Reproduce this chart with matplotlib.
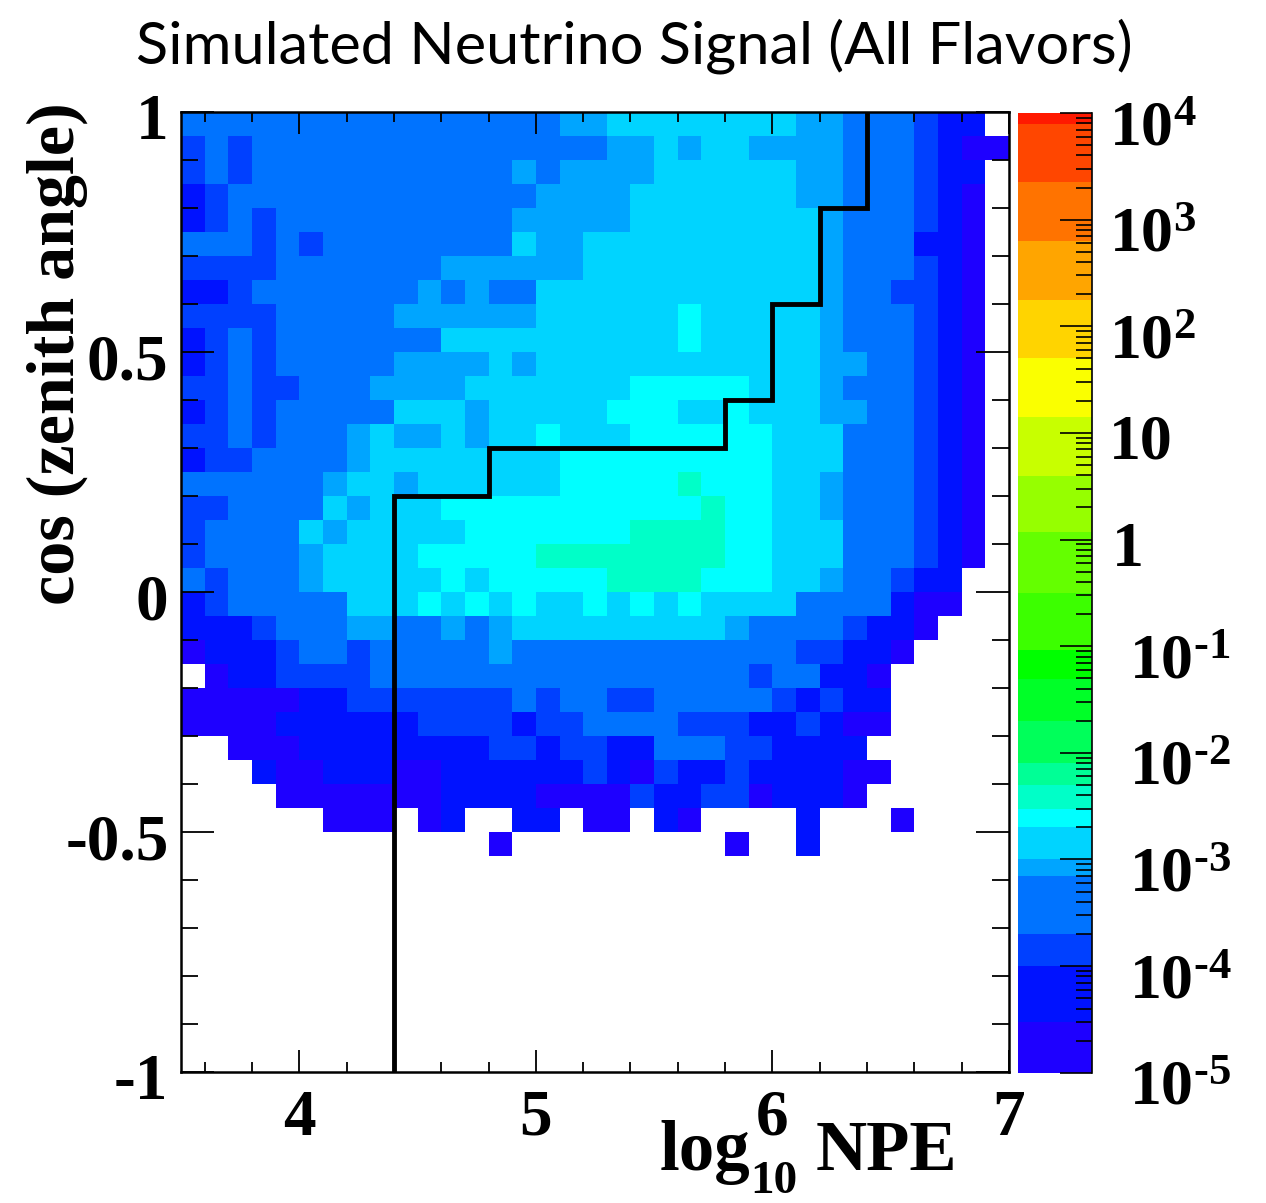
import numpy as np
import matplotlib
matplotlib.use("Agg")
import matplotlib.pyplot as plt
from matplotlib.colors import BoundaryNorm, ListedColormap
from matplotlib.ticker import FixedLocator, NullFormatter
from matplotlib.transforms import ScaledTranslation

# Colour band of each histogram cell, top row first (-1 = empty bin)
niveles_top = [
    [3]*16 + [4, 4] + [5]*8 + [4, 4, 3, 3, 3, 2, 1, 1, -1],
    [2, 3, 2] + [3]*15 + [4, 4, 5, 4, 5, 5, 4, 4, 4, 4, 3, 3, 3, 2, 1, 0, 0],
    [2, 3, 2] + [3]*11 + [4, 3, 4, 4, 4, 4] + [5]*6 + [4, 4, 3, 3, 3, 2, 1, 1, -1],
    [1, 2] + [3]*13 + [4, 4, 4, 4] + [5]*7 + [4, 4, 3, 3, 3, 2, 1, 0, -1],
    [1, 2, 3, 2] + [3]*10 + [4]*5 + [5]*8 + [4, 3, 3, 3, 2, 1, 0, -1],
    [3, 3, 3, 2, 3, 2] + [3]*8 + [5, 4, 4] + [5]*10 + [4, 3, 3, 3, 1, 1, 0, -1],
    [2, 2, 2, 2] + [3]*7 + [4]*6 + [5]*10 + [4, 3, 3, 3, 2, 1, 0, -1],
    [1, 1, 2] + [3]*7 + [4, 3, 4, 3, 3] + [5]*12 + [4, 3, 3, 2, 2, 1, 0, -1],
    [2, 2, 2, 2] + [3]*5 + [4]*6 + [5]*6 + [6] + [5]*5 + [4, 3, 3, 3, 2, 1, 0, -1],
    [1, 2, 3, 2] + [3]*7 + [5]*10 + [6] + [5]*5 + [4, 3, 3, 3, 2, 1, 0, -1],
    [1, 2, 3, 2] + [3]*5 + [4, 4, 4, 4, 5, 4] + [5]*12 + [4, 4, 3, 3, 2, 1, 0, -1],
    [2, 2, 3, 2, 2, 3, 3, 3, 4, 4, 4, 4] + [5]*7 + [6]*5 + [5, 5, 5, 4, 3, 3, 3, 2, 1, 0, -1],
    [1, 2, 3, 2] + [3]*5 + [5, 5, 5, 4] + [5]*5 + [6, 6, 6, 5, 5, 6, 5, 5, 5, 4, 4, 3, 3, 2, 1, 0, -1],
    [2, 2, 3, 2, 3, 3, 3, 4, 5, 4, 4, 5, 4, 5, 5, 6, 5, 5, 5] + [6]*6 + [5, 5, 5, 3, 3, 3, 2, 1, 0, -1],
    [1, 2, 2, 3, 3, 3, 3, 4] + [5]*8 + [6]*9 + [5, 5, 5, 3, 3, 3, 2, 1, 0, -1],
    [3]*6 + [4, 5, 5, 4] + [5]*6 + [6]*5 + [7, 6, 6, 6, 5, 5, 4, 3, 3, 3, 2, 1, 0, -1],
]
niveles_mid = [
    [2, 2, 3, 3, 3, 3, 5, 4, 5, 5, 5] + [6]*11 + [7, 6, 6, 5, 5, 4, 3, 3, 3, 2, 1, 0, -1],
    [2, 3, 3, 3, 3, 5, 4, 5, 5, 5, 5, 5] + [6]*7 + [7, 7, 7, 7, 6, 6, 5, 5, 5, 3, 3, 3, 2, 1, 0, -1],
    [2, 3, 3, 3, 3, 4, 5, 5, 5, 5] + [6]*5 + [7]*8 + [6, 6, 5, 5, 5, 3, 3, 3, 2, 1, 0, -1],
    [3, 2, 3, 3, 3, 4, 5, 5, 5, 5, 5, 6, 5] + [6]*5 + [7, 7, 7, 7, 6, 6, 6, 5, 5, 4, 3, 3, 2, 1, 1, -1, -1],
    [1, 2, 3, 3, 3, 3, 3, 5, 5, 5, 6, 5, 6, 5, 6, 5, 5, 6, 5, 6, 5, 6, 5, 5, 5, 5, 3, 3, 3, 3, 1, 0, 0, -1, -1],
    [1, 1, 1, 2, 3, 3, 3, 4, 4, 3, 3, 4, 3, 4] + [5]*9 + [4, 3, 3, 3, 3, 2, 1, 1, 0, -1, -1, -1],
    [0, 1, 1, 1, 2, 3, 3, 2, 3, 3, 3, 3, 3, 4] + [3]*12 + [2, 2, 1, 1, 0, -1, -1, -1, -1],
    [-1, 0, 1, 1, 2, 2, 2, 2] + [3]*16 + [2, 3, 3, 1, 1, 0] + [-1]*5,
]
niveles_bot = [
    [0, 0, 0, 0, 0, 1, 1, 2, 2, 2, 2, 2, 2, 2, 3, 2, 3, 3, 2, 2, 3, 3, 3, 3, 3, 2, 1, 2, 1, 1] + [-1]*5,
    [0, 0, 0, 0, 1, 1, 1, 1, 1, 1, 2, 2, 2, 2, 1, 2, 2, 3, 3, 3, 3, 2, 2, 2, 1, 1, 2, 1, 0, 0] + [-1]*5,
    [-1, -1, 0, 0, 0, 1, 1, 1, 1, 1, 1, 1, 1, 2, 2, 1, 2, 2, 1, 1, 3, 3, 3, 2, 2, 1, 1, 1, 1] + [-1]*6,
    [-1, -1, -1, 1, 0, 0, 1, 1, 1, 0, 0, 1, 1, 1, 1, 1, 1, 2, 1, 0, 2, 1, 1, 2, 1, 1, 1, 1, 0, 0] + [-1]*5,
    [-1, -1, -1, -1, 0, 0, 0, 0, 0, 0, 0, 1, 1, 1, 1, 0, 0, 0, 0, 2, 1, 1, 2, 2, 0, 1, 1, 1, 0] + [-1]*6,
    [-1]*6 + [0, 0, 0, -1, 0, 1, -1, -1, 1, 1, -1, 0, 0, -1, 1, 0, -1, -1, -1, -1, 1, -1, -1, -1, 0, -1, -1, -1, -1],
    [-1]*13 + [0] + [-1]*9 + [0, -1, -1, 1] + [-1]*8,
]

# Band edges of the palette, in log10 of the z value
limites_log = [-5.0, -4.52, -4.0, -3.70, -3.155, -3.0, -2.695, -2.53, -2.30, -2.10, -1.70, -1.31,
               -1.04, -0.50, 0.07, 0.60, 1.15, 1.70, 2.25, 2.80, 3.35, 3.90, 4.0]
colores = ["#1e00ff", "#0012ff", "#0040ff", "#0073ff", "#00a5ff", "#00d4ff", "#00ffff", "#00ffc8",
           "#00ff96", "#00ff5a", "#00ff28", "#00ff00", "#3cff00", "#64ff00", "#96ff00", "#c8ff00",
           "#faff00", "#ffd400", "#ffa500", "#ff7300", "#ff4600", "#ff1900"]

# Cut line
corte_x = [4.4, 4.4, 4.8, 4.8, 5.8, 5.8, 6.0, 6.0, 6.2, 6.2, 6.4, 6.4]
corte_y = [-1, 0.2, 0.2, 0.3, 0.3, 0.4, 0.4, 0.6, 0.6, 0.8, 0.8, 1]

xticks = [4, 5, 6, 7]
yticks = [-1, -0.5, 0, 0.5, 1]
yticklabels = ["-1", "-0.5", "0", "0.5", "1"]
zticks = [1e-5, 1e-4, 1e-3, 1e-2, 1e-1, 1, 10, 1e2, 1e3, 1e4]
zlabels = [r"$10^{\text{-}5}$", r"$10^{\text{-}4}$", r"$10^{\text{-}3}$", r"$10^{\text{-}2}$", r"$10^{\text{-}1}$",
           "1", "10", r"$10^{2}$", r"$10^{3}$", r"$10^{4}$"]

plt.rcParams["font.family"] = "Liberation Serif"
plt.rcParams["font.weight"] = "bold"
plt.rcParams["mathtext.fontset"] = "custom"
plt.rcParams["mathtext.rm"] = "Liberation Serif:bold"
plt.rcParams["mathtext.bf"] = "Liberation Serif:bold"
plt.rcParams["mathtext.it"] = "Liberation Serif:bold"
plt.rcParams["mathtext.default"] = "bf"

W, H = 1266, 1203
fig = plt.figure(figsize=(W / 100, H / 100), dpi=100, facecolor="white")
ax = fig.add_axes([181 / W, (H - 1072) / H, 828 / W, 960 / H])
cax = fig.add_axes([1018 / W, (H - 1072.7) / H, 74 / W, 959.7 / H])

niveles = np.array(niveles_top + niveles_mid + niveles_bot + [[-1] * 35] * 9)
limites = 10.0 ** np.array(limites_log)
centros = 10.0 ** ((np.array(limites_log[:-1]) + np.array(limites_log[1:])) / 2)
cmap = ListedColormap(colores)
norm = BoundaryNorm(limites, len(colores))

z = np.ma.masked_where(niveles < 0, centros[np.clip(niveles, 0, None)])
x_bordes = np.linspace(3.5, 7, 36)
y_bordes = np.linspace(1, -1, 41)
ax.pcolormesh(x_bordes, y_bordes, z, cmap=cmap, norm=norm, antialiased=False, linewidth=0)
ax.plot(corte_x, corte_y, color="black", lw=3.5, solid_joinstyle="miter", zorder=3)

ax.set_xlim(3.5, 7)
ax.set_ylim(-1, 1)
ax.set_xticks(xticks)
ax.set_xticks(np.arange(3.6, 7, 0.2), minor=True)
ax.set_yticks(yticks)
ax.set_yticks(np.arange(-0.9, 1, 0.1), minor=True)
ax.set_yticklabels(yticklabels)
ax.tick_params(axis="x", which="major", direction="in", top=True, length=16, width=1.3, labelsize=47, pad=12)
ax.tick_params(axis="x", which="minor", direction="in", top=True, length=7.2, width=1.3)
ax.tick_params(axis="y", which="major", direction="in", right=True, length=24, width=1.3, labelsize=47, pad=9)
ax.tick_params(axis="y", which="minor", direction="in", right=True, length=12, width=1.3)
for lab in ax.get_yticklabels():
    lab.set_transform(lab.get_transform() + ScaledTranslation(0, -4 / 100, fig.dpi_scale_trans))
for s in ax.spines.values():
    s.set_linewidth(1.8)

# Palette
cax.pcolormesh([0, 1], limites, np.array(centros).reshape(-1, 1), cmap=cmap, norm=norm, antialiased=False)
cax.set_yscale("log")
cax.set_ylim(1e-5, 1e4)
cax.set_xlim(0, 1)
cax.set_xticks([])
for lado in ["left", "top", "bottom"]:
    cax.spines[lado].set_visible(False)
cax.spines["right"].set_linewidth(1.2)
cax.yaxis.tick_right()
cax.yaxis.set_major_locator(FixedLocator(zticks))
cax.yaxis.set_minor_locator(FixedLocator([d * m for d in zticks[:-1] for m in range(2, 10)]))
cax.yaxis.set_major_formatter(NullFormatter())
cax.yaxis.set_minor_formatter(NullFormatter())
cax.tick_params(axis="y", which="major", direction="in", length=23, width=1.2)
cax.tick_params(axis="y", which="minor", direction="in", length=11.5, width=1.2)
for val, lab in zip(zticks, zlabels):
    dx = 37 if val < 1 else (20 if val == 1 else 17)
    dy = -26 if val in (1, 10) else -32
    cax.annotate(lab, xy=(1, val), xycoords=("axes fraction", "data"), xytext=(dx, dy),
                 textcoords="offset pixels", ha="left", va="baseline", fontsize=46, annotation_clip=False)

fig.text(634 / W, 1 - 63 / H, "Simulated Neutrino Signal (All Flavors)", family="Lato", weight="normal",
         fontsize=42.8, ha="center", va="baseline")
fig.text(74 / W, 1 - 605 / H, "cos (zenith angle)", fontsize=49, rotation=90, ha="left", va="baseline",
         rotation_mode="anchor", fontweight="bold")
fig.text(750 / W, 1 - 1170 / H, "log", fontsize=51, ha="right", va="baseline")
fig.text(750 / W, 1 - 1193 / H, "10", fontsize=34, ha="left", va="baseline")
fig.text(957 / W, 1 - 1170 / H, "NPE", fontsize=51, ha="right", va="baseline")

fig.savefig("out.png", dpi=100)
